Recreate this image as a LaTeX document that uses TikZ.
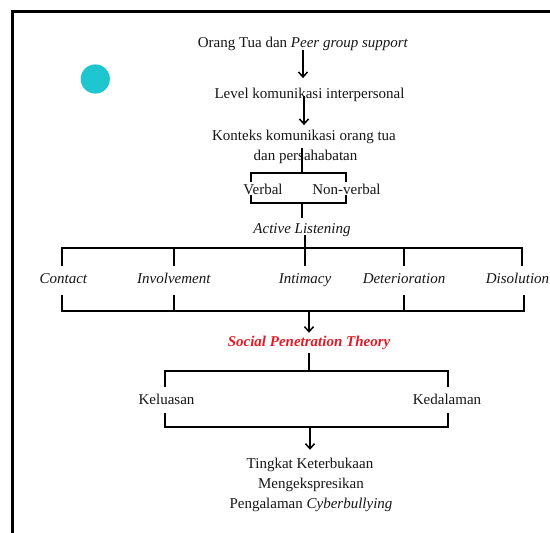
\documentclass[tikz,border=0pt]{standalone}
\usepackage{fontspec}
\setmainfont{Liberation Serif}
\usetikzlibrary{arrows.meta}

\definecolor{dotcyan}{RGB}{30,199,208}
\definecolor{sptred}{RGB}{226,28,38}
\definecolor{ink}{RGB}{22,22,22}

\tikzset{
  txt/.style={font=\fontsize{15}{20}\selectfont, text=ink, inner sep=0pt,
    text height=10pt, text depth=0pt, anchor=base},
  ln/.style={draw=black, line width=1.5pt},
  arr/.style={ln, -{Straight Barb[length=5pt,width=9pt]}},
}

\begin{document}
\begin{tikzpicture}[x=1pt,y=-1pt]
\useasboundingbox (0,0) rectangle (550,533);
\fill[white] (0,0) rectangle (550,533);
\draw[line width=2.5pt] (550,11.5) -- (12.3,11.5) -- (12.3,533);
\fill[dotcyan] (95.3,79) circle (14.6);

\node[txt] (src) at (303,47.3) {Orang Tua dan \textit{Peer group support}};
\node[txt] (lvl) at (309.5,98.3) {Level komunikasi interpersonal};
\node[txt] (ctx1) at (304,140.3) {Konteks komunikasi orang tua};
\node[txt] (ctx2) at (305.5,160.3) {dan persahabatan};
\node[txt] (verb) at (263,194.3) {Verbal};
\node[txt] (nverb) at (346.5,194.3) {Non-verbal};
\node[txt] (al) at (302,233.3) {\textit{Active Listening}};

\node[txt] (st1) at (63.5,283.3) {\textit{Contact}};
\node[txt] (st2) at (174,283.3) {\textit{Involvement}};
\node[txt] (st3) at (305,283.3) {\textit{Intimacy}};
\node[txt] (st4) at (404,283.3) {\textit{Deterioration}};
\node[txt] (st5) at (517.5,283.3) {\textit{Disolution}};

\node[txt, text=sptred, font=\fontsize{15}{20}\selectfont\bfseries\itshape] (spt) at (309,346.3) {Social Penetration Theory};
\node[txt] (kel) at (166.5,404.3) {Keluasan};
\node[txt] (ked) at (447,404.3) {Kedalaman};
\node[txt] (out1) at (310,468.3) {Tingkat Keterbukaan};
\node[txt] (out2) at (311,488.3) {Mengekspresikan};
\node[txt] (out3) at (311,508.3) {Pengalaman \textit{Cyberbullying}};

\coordinate (vjoin) at (302,173);
\coordinate (vl) at (251,173);
\coordinate (vr) at (346,173);
\coordinate (vbl) at (251,203);
\coordinate (vbr) at (346,203);
\coordinate (tbl) at (62,248);
\coordinate (tbr) at (522,248);
\coordinate (bbl) at (62,311);
\coordinate (bbr) at (524,311);
\coordinate (kl) at (165,371);
\coordinate (kr) at (448,371);
\coordinate (kbl) at (165,427);
\coordinate (kbr) at (448,427);

\draw[arr, shorten <=2.5pt, shorten >=10pt] (src.south) -- (src.south |- lvl.north);
\draw[arr, shorten <=-2.5pt, shorten >=5pt] (lvl.south -| ctx1) -- (ctx1.north);

\draw[ln, shorten <=7.5pt] (ctx1.base -| vjoin) -- (vjoin);
\draw[ln, shorten <=2pt, shorten >=2pt] (verb.north -| vl) -- (vl) -- (vr) -- (nverb.north -| vr);
\draw[ln] (verb.south -| vbl) -- (vbl) -- (vbr) -- (nverb.south -| vbr);
\draw[ln, shorten >=5pt] (vbl -| al) -- (al.north);

\draw[ln, shorten <=1.7pt, shorten >=7.3pt] (al.south -| st3) -- (st3.north);
\draw[ln, shorten <=7.3pt, shorten >=7.3pt] (st1.north -| tbl) -- (tbl) -- (tbr) -- (st5.north -| tbr);
\draw[ln, shorten >=7.3pt] (tbl -| st2) -- (st2.north);
\draw[ln, shorten >=7.3pt] (tbl -| st4) -- (st4.north);
\draw[ln, shorten <=11pt, shorten >=11pt] (st1.south -| bbl) -- (bbl) -- (bbr) -- (st5.south -| bbr);
\draw[ln, shorten <=11pt] (st2.south) -- (st2.south |- bbl);
\draw[ln, shorten <=11pt] (st4.south) -- (st4.south |- bbl);
\draw[arr, shorten >=3.3pt] (bbl -| spt) -- (spt.north);

\draw[ln, shorten <=6.7pt] (spt.south) -- (spt.south |- kl);
\draw[ln, shorten <=7pt, shorten >=7pt] (kel.north -| kl) -- (kl) -- (kr) -- (ked.north -| kr);
\draw[ln, shorten <=8pt, shorten >=8pt] (kel.south -| kbl) -- (kbl) -- (kbr) -- (ked.south -| kbr);
\draw[arr, shorten >=8.3pt] (kbl -| out1) -- (out1.north);
\end{tikzpicture}
\end{document}
